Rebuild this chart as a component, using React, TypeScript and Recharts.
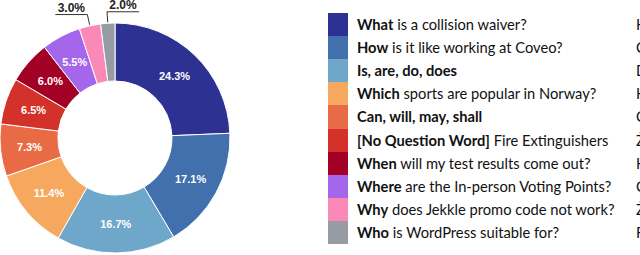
import React from "react";
import { PieChart, Pie, Cell, Legend } from "recharts";

const categories = [
  "What", "How", "Is, are, do, does", "Which", "Can, will, may, shall",
  "[No Question Word]", "When", "Where", "Why", "Who",
];
const examples = [
  " is a collision waiver?", " is it like working at Coveo?", "", " sports are popular in Norway?", "",
  " Fire Extinguishers", " will my test results come out?", " are the In-person Voting Points?",
  " does Jekkle promo code not work?", " is WordPress suitable for?",
];
const translations = ["Hvad", "Come", "Das", "Hvilke", "Czy", "Żaden", "Hvornår", "Cuál", "Żeby", "Für"];
const shares = [24.3, 17.1, 16.7, 11.4, 7.3, 6.5, 6.0, 5.5, 3.0, 2.0];
const colors = [
  "#2d3191", "#4170ad", "#6fa7ca", "#f6a95e", "#e86b45",
  "#d2322a", "#a30026", "#a466eb", "#fa89b8", "#979ba3",
];

const data = categories.map((name, i) => ({ name, value: shares[i] }));

const RAD = Math.PI / 180;

function renderLabel(props: any) {
  const { cx, cy, midAngle, innerRadius, outerRadius, value, index } = props;
  const cos = Math.cos(-midAngle * RAD);
  const sin = Math.sin(-midAngle * RAD);
  const txt = `${value.toFixed(1)}%`;
  if (value >= 5) {
    const r = (innerRadius + outerRadius) / 2;
    return (
      <text x={cx + r * cos} y={cy + r * sin} fill="#fff" fontSize={11} fontWeight="bold"
        fontFamily="Liberation Sans, Arial, sans-serif" textAnchor="middle" dominantBaseline="central">
        {txt}
      </text>
    );
  }
  const sx = cx + (outerRadius + 1) * cos;
  const sy = cy + (outerRadius + 1) * sin;
  const ex = cx + (outerRadius + 11.5) * cos;
  const ey = cy + (outerRadius + 11.5) * sin;
  const dir = index === data.length - 1 ? 1 : -1;
  const hx = ex + dir * 32;
  return (
    <g>
      <polyline points={`${sx},${sy} ${ex},${ey} ${hx},${ey}`} fill="none" stroke="#333" strokeWidth={1} />
      <text x={(ex + hx) / 2} y={ey - 2.5} fill="#222" fontSize={12} fontWeight="bold"
        fontFamily="Liberation Sans, Arial, sans-serif" textAnchor="middle">
        {txt}
      </text>
    </g>
  );
}

function LegendBox() {
  const rowH = 23.1;
  return (
    <div style={{ position: "relative", width: 320, height: 255 }}>
      {categories.map((c, i) => (
        <div key={c} style={{ position: "absolute", top: 13 + i * rowH, left: 0, height: rowH, width: 320 }}>
          <div style={{ position: "absolute", left: 0, top: 0, width: 20, height: rowH + 0.5, background: colors[i] }} />
          <div style={{
            position: "absolute", left: 29, top: 0, lineHeight: `${rowH}px`, whiteSpace: "nowrap",
            fontFamily: "Lato, sans-serif", fontSize: 14.7, color: "#111",
          }}>
            <b>{c}</b>{examples[i]}
          </div>
          <div style={{
            position: "absolute", left: 308, top: 0, lineHeight: `${rowH}px`, whiteSpace: "nowrap",
            fontFamily: "Lato, sans-serif", fontSize: 14.7, color: "#111",
          }}>
            {translations[i]}
          </div>
        </div>
      ))}
    </div>
  );
}

export default function App() {
  return (
    <div style={{ position: "absolute", left: 0, top: 0, width: 640, height: 255, overflow: "hidden", background: "#fff" }}>
      <PieChart width={640} height={255} margin={{ top: 0, right: 0, bottom: 0, left: 0 }}>
        <Pie
          data={data}
          dataKey="value"
          cx={115}
          cy={138}
          innerRadius={57}
          outerRadius={115}
          startAngle={90}
          endAngle={-270}
          stroke="#fff"
          strokeWidth={1}
          label={renderLabel}
          labelLine={false}
          isAnimationActive={false}
        >
          {data.map((d, i) => (
            <Cell key={d.name} fill={colors[i]} />
          ))}
        </Pie>
        <Legend
          content={() => <LegendBox />}
          wrapperStyle={{ position: "absolute", left: 328, top: 0, width: 320, height: 255 }}
        />
      </PieChart>
    </div>
  );
}
